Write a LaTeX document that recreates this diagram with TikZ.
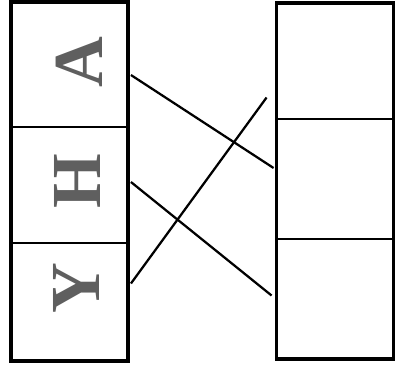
\documentclass[tikz,border=0pt]{standalone}
\usepackage{fontspec}
\setmainfont{Liberation Serif}
\usepackage{xcolor}
\usepackage{tikz}
\usetikzlibrary{positioning, fit}
\definecolor{lettergray}{RGB}{95,95,95}
\tikzset{
  cell/.style={rectangle, draw=black, line width=1.3pt, minimum width=2.875cm, inner sep=0pt},
  frame/.style={rectangle, draw=black, line width=2.5pt, inner sep=0pt},
  letter/.style={rotate=90, text=lettergray, inner sep=0pt, font=\fontsize{50}{50}\selectfont\bfseries},
  link/.style={line width=1.6pt},
}
\begin{document}
\begin{tikzpicture}[x=0.025cm, y=-0.025cm]
\useasboundingbox (0,0) rectangle (398,370);

% left column
\node[cell, minimum height=3.1cm]  (la) at (69.5,65) {};
\node[cell, minimum height=2.9cm]  (lh) at (69.5,185) {};
\node[cell, minimum height=2.925cm] (ly) at (69.5,301.5) {};
\node[frame, fit=(la)(ly)] (left) {};

% right column
\node[cell, minimum height=2.875cm] (rt) at (335,61.5) {};
\node[cell, minimum height=3cm]     (rm) at (335,179) {};
\node[cell, minimum height=2.975cm] (rb) at (335,298.5) {};
\node[frame, fit=(rt)(rb)] (right) {};

% letters
\node[letter] (ta) at (79,62) {A};
\node[letter] (th) at (77,181) {H};
\node[letter] (ty) at (76,288) {Y};

% connectors
\draw[link] ([shift={(3,10)}]la.east) -- ([shift={(-3,-11)}]rm.west);
\draw[link] ([shift={(3,-3)}]lh.east) -- ([shift={(-5,-3)}]rb.west);
\draw[link] ([shift={(3,-18)}]ly.east) -- ([shift={(-10,36)}]rt.west);
\end{tikzpicture}
\end{document}
